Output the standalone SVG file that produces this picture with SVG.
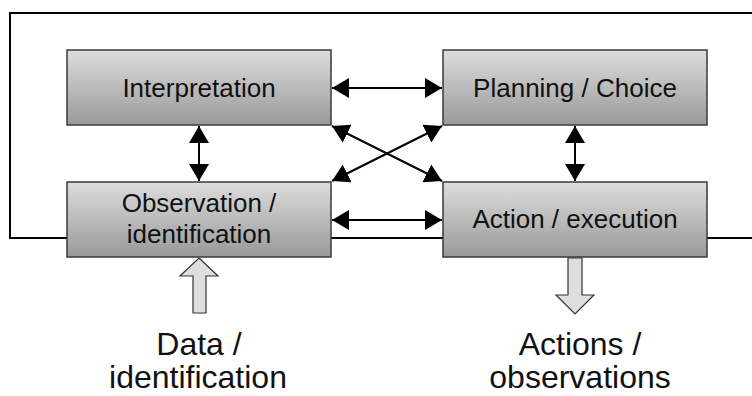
<svg xmlns="http://www.w3.org/2000/svg" width="752" height="396" viewBox="0 0 752 396">
  <style>
    .box { fill: url(#boxFill); stroke: #3a3a3a; stroke-width: 1.5; }
    .lbl { font-family: 'Liberation Sans', Arimo, Arial, sans-serif; font-size: 26px; fill: #111; text-anchor: middle; }
    .big { font-family: 'Liberation Sans', Arimo, Arial, sans-serif; font-size: 32px; fill: #111; text-anchor: middle; }
    .link { stroke: #000; stroke-width: 2; fill: none; marker-start: url(#head); marker-end: url(#head); }
    .frame { stroke: #000; stroke-width: 2; fill: none; }
    .flow { fill: #dedede; stroke: #333; stroke-width: 1.2; }
  </style>
  <defs>
    <linearGradient id="boxFill" x1="0" y1="0" x2="0" y2="1">
      <stop offset="0" stop-color="#dddddd"/>
      <stop offset="1" stop-color="#999999"/>
    </linearGradient>
    <marker id="head" viewBox="0 0 17 20" refX="17" refY="10" markerWidth="17" markerHeight="20" markerUnits="userSpaceOnUse" orient="auto-start-reverse">
      <path d="M0,0 L17,10 L0,20 Z" fill="#000"/>
    </marker>
  </defs>

  <!-- feedback frame running behind the boxes -->
  <path class="frame" d="M752,13 H10 V238 H752"/>

  <g id="interpretation">
    <rect class="box" x="67" y="50" width="264" height="75"/>
    <text class="lbl" x="199" y="97">Interpretation</text>
  </g>
  <g id="planning">
    <rect class="box" x="443" y="50" width="264" height="75"/>
    <text class="lbl" x="575" y="97">Planning / Choice</text>
  </g>
  <g id="observation">
    <rect class="box" x="67" y="182" width="264" height="75"/>
    <text class="lbl" x="199" y="212">Observation /</text>
    <text class="lbl" x="199" y="243">identification</text>
  </g>
  <g id="action">
    <rect class="box" x="443" y="182" width="264" height="75"/>
    <text class="lbl" x="575" y="228">Action / execution</text>
  </g>

  <g id="connectors">
    <line class="link" x1="332" y1="88" x2="442" y2="88"/>
    <line class="link" x1="332" y1="220" x2="442" y2="220"/>
    <line class="link" x1="199" y1="126" x2="199" y2="181"/>
    <line class="link" x1="575" y1="126" x2="575" y2="181"/>
    <line class="link" x1="332" y1="126" x2="442" y2="181"/>
    <line class="link" x1="332" y1="181" x2="442" y2="126"/>
  </g>

  <g id="input">
    <path class="flow" d="M199,258 L218,276 L206,276 L206,313 L193,313 L193,276 L180,276 Z"/>
    <text class="big" x="199" y="355">Data /</text>
    <text class="big" x="198" y="388">identification</text>
  </g>
  <g id="output">
    <path class="flow" d="M568,258 L582,258 L582,295 L594,295 L575,314 L556,295 L568,295 Z"/>
    <text class="big" x="580" y="355">Actions /</text>
    <text class="big" x="580" y="388">observations</text>
  </g>
</svg>
